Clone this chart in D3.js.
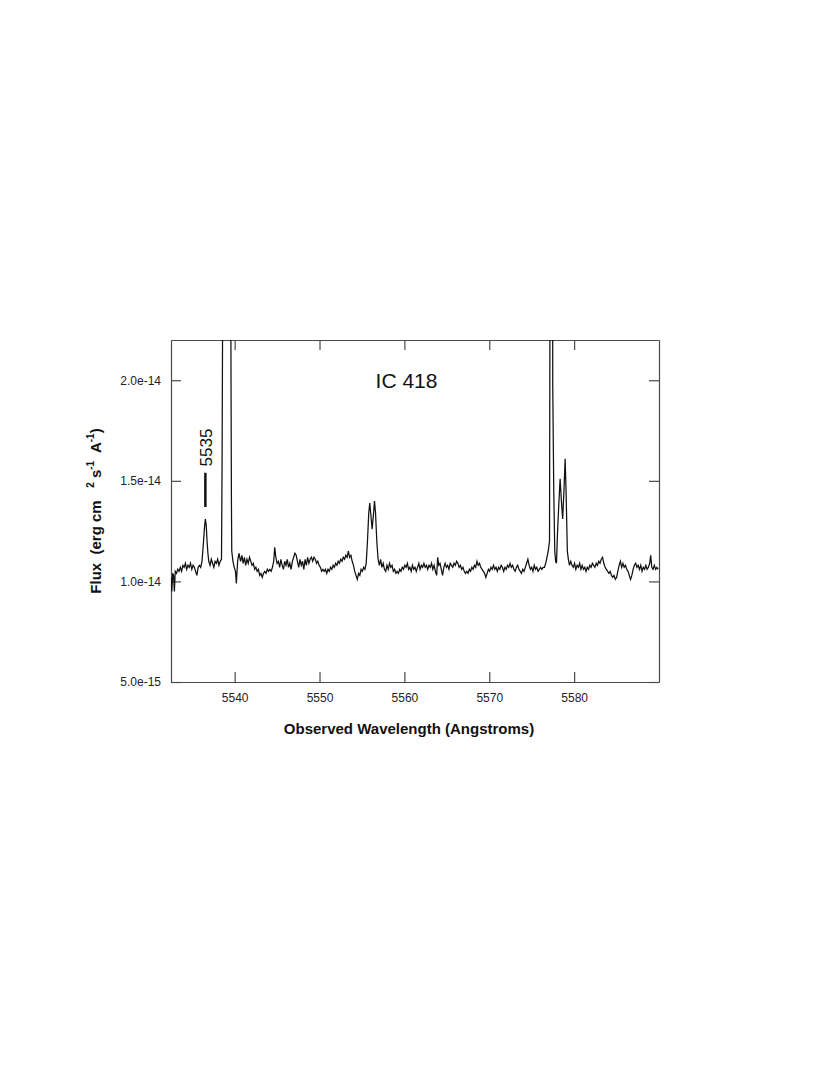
<!DOCTYPE html>
<html><head><meta charset="utf-8">
<script src="https://cdn.jsdelivr.net/npm/d3@7"></script>
<style>body{margin:0;background:#fff}svg{display:block}text{font-family:"Liberation Sans",Arial,sans-serif}</style>
</head><body>
<script>
// spectrum: [wavelength (Angstrom), flux (1e-14 erg cm^-2 s^-1 A^-1)]
const spectrum = [
[5532.50,1.02],[5532.60,0.95],[5532.70,1.04],[5532.80,1.03],[5532.90,0.95],[5533.00,1.05],[5533.15,1.04],[5533.30,1.06],
[5533.45,1.05],[5533.60,1.07],[5533.75,1.05],[5533.90,1.08],[5534.05,1.07],[5534.20,1.09],[5534.35,1.06],[5534.50,1.08],
[5534.65,1.07],[5534.80,1.09],[5534.95,1.06],[5535.10,1.08],[5535.25,1.07],[5535.40,1.05],[5535.55,1.03],[5535.70,1.07],
[5535.85,1.08],[5536.00,1.07],[5536.15,1.10],[5536.30,1.18],[5536.45,1.27],[5536.55,1.31],[5536.65,1.28],[5536.75,1.20],
[5536.85,1.14],[5536.95,1.10],[5537.10,1.08],[5537.25,1.11],[5537.40,1.09],[5537.55,1.07],[5537.70,1.10],[5537.85,1.09],
[5538.00,1.11],[5538.15,1.08],[5538.30,1.10],[5538.45,1.11],[5538.52,1.60],[5538.58,2.30],[5539.05,4.00],[5539.55,2.30],
[5539.62,1.40],[5539.66,1.15],[5539.80,1.10],[5539.95,1.07],[5540.10,1.05],[5540.20,0.99],[5540.35,1.10],[5540.50,1.14],
[5540.70,1.10],[5540.85,1.13],[5541.00,1.09],[5541.15,1.12],[5541.30,1.08],[5541.45,1.11],[5541.60,1.09],[5541.75,1.12],
[5541.90,1.10],[5542.05,1.08],[5542.20,1.09],[5542.35,1.06],[5542.50,1.07],[5542.65,1.05],[5542.80,1.06],[5542.95,1.03],
[5543.10,1.04],[5543.25,1.02],[5543.40,1.04],[5543.55,1.05],[5543.70,1.04],[5543.85,1.06],[5544.00,1.05],[5544.15,1.06],
[5544.30,1.05],[5544.45,1.07],[5544.60,1.10],[5544.72,1.17],[5544.85,1.12],[5545.00,1.09],[5545.15,1.10],[5545.30,1.07],
[5545.45,1.11],[5545.60,1.08],[5545.75,1.06],[5545.90,1.10],[5546.05,1.08],[5546.20,1.11],[5546.35,1.07],[5546.50,1.09],
[5546.65,1.06],[5546.80,1.10],[5546.95,1.12],[5547.10,1.14],[5547.25,1.13],[5547.40,1.10],[5547.55,1.07],[5547.70,1.11],
[5547.85,1.08],[5548.00,1.10],[5548.15,1.06],[5548.30,1.11],[5548.45,1.08],[5548.60,1.12],[5548.75,1.09],[5548.90,1.11],
[5549.05,1.12],[5549.20,1.10],[5549.35,1.12],[5549.50,1.11],[5549.65,1.09],[5549.80,1.10],[5549.95,1.08],[5550.10,1.07],
[5550.25,1.05],[5550.40,1.06],[5550.55,1.05],[5550.70,1.06],[5550.85,1.04],[5551.00,1.06],[5551.15,1.05],[5551.30,1.07],
[5551.45,1.06],[5551.60,1.08],[5551.75,1.07],[5551.90,1.09],[5552.05,1.08],[5552.20,1.10],[5552.35,1.09],[5552.50,1.11],
[5552.65,1.10],[5552.80,1.12],[5552.95,1.11],[5553.10,1.13],[5553.25,1.12],[5553.40,1.15],[5553.55,1.12],[5553.70,1.13],
[5553.85,1.10],[5554.00,1.08],[5554.15,1.05],[5554.30,1.03],[5554.45,1.01],[5554.60,1.04],[5554.75,1.03],[5554.90,1.06],
[5555.05,1.05],[5555.20,1.07],[5555.35,1.06],[5555.50,1.09],[5555.65,1.20],[5555.80,1.34],[5555.92,1.39],[5556.05,1.33],
[5556.20,1.26],[5556.35,1.33],[5556.48,1.40],[5556.60,1.34],[5556.75,1.20],[5556.90,1.11],[5557.05,1.08],[5557.20,1.11],
[5557.35,1.07],[5557.50,1.09],[5557.65,1.06],[5557.80,1.05],[5557.95,1.08],[5558.10,1.06],[5558.25,1.09],[5558.40,1.07],
[5558.55,1.08],[5558.70,1.05],[5558.85,1.06],[5559.00,1.04],[5559.15,1.05],[5559.30,1.04],[5559.45,1.06],[5559.60,1.05],
[5559.75,1.07],[5559.90,1.06],[5560.05,1.08],[5560.20,1.07],[5560.35,1.09],[5560.50,1.06],[5560.65,1.07],[5560.80,1.05],
[5560.95,1.08],[5561.10,1.06],[5561.25,1.07],[5561.40,1.05],[5561.55,1.07],[5561.70,1.09],[5561.85,1.06],[5562.00,1.08],
[5562.15,1.07],[5562.30,1.09],[5562.45,1.07],[5562.60,1.08],[5562.75,1.06],[5562.90,1.08],[5563.05,1.07],[5563.20,1.09],
[5563.35,1.06],[5563.50,1.08],[5563.65,1.05],[5563.80,1.03],[5563.92,1.12],[5564.05,1.08],[5564.20,1.09],[5564.35,1.06],
[5564.50,1.03],[5564.65,1.07],[5564.80,1.09],[5564.95,1.07],[5565.10,1.08],[5565.25,1.06],[5565.40,1.09],[5565.55,1.08],
[5565.70,1.07],[5565.85,1.09],[5566.00,1.08],[5566.15,1.10],[5566.30,1.09],[5566.45,1.07],[5566.60,1.08],[5566.75,1.06],
[5566.90,1.07],[5567.05,1.05],[5567.20,1.04],[5567.35,1.05],[5567.50,1.04],[5567.65,1.06],[5567.80,1.05],[5567.95,1.07],
[5568.10,1.06],[5568.25,1.08],[5568.40,1.07],[5568.55,1.10],[5568.70,1.08],[5568.85,1.09],[5569.00,1.07],[5569.15,1.06],
[5569.30,1.05],[5569.45,1.04],[5569.60,1.02],[5569.75,1.04],[5569.90,1.06],[5570.05,1.05],[5570.20,1.07],[5570.35,1.06],
[5570.50,1.08],[5570.65,1.06],[5570.80,1.07],[5570.95,1.05],[5571.10,1.07],[5571.25,1.06],[5571.40,1.08],[5571.55,1.07],
[5571.70,1.05],[5571.85,1.07],[5572.00,1.06],[5572.15,1.08],[5572.30,1.07],[5572.45,1.09],[5572.60,1.07],[5572.75,1.08],
[5572.90,1.06],[5573.05,1.05],[5573.20,1.07],[5573.35,1.08],[5573.50,1.06],[5573.65,1.05],[5573.80,1.04],[5573.95,1.06],
[5574.10,1.05],[5574.25,1.07],[5574.40,1.09],[5574.55,1.11],[5574.70,1.08],[5574.85,1.06],[5575.00,1.07],[5575.15,1.05],
[5575.30,1.08],[5575.45,1.06],[5575.60,1.07],[5575.75,1.05],[5575.90,1.06],[5576.05,1.07],[5576.20,1.06],[5576.35,1.07],
[5576.50,1.07],[5576.65,1.09],[5576.80,1.12],[5576.95,1.15],[5577.10,1.20],[5577.18,3.00],[5577.40,5.00],[5577.48,1.97],
[5577.60,1.45],[5577.72,1.15],[5577.82,1.10],[5577.92,1.09],[5578.05,1.25],[5578.18,1.37],[5578.35,1.51],[5578.50,1.40],
[5578.65,1.31],[5578.80,1.45],[5578.94,1.61],[5579.05,1.45],[5579.20,1.15],[5579.32,1.11],[5579.45,1.08],[5579.60,1.10],
[5579.75,1.08],[5579.90,1.07],[5580.05,1.09],[5580.20,1.06],[5580.35,1.08],[5580.50,1.07],[5580.65,1.09],[5580.80,1.06],
[5580.95,1.08],[5581.10,1.06],[5581.25,1.07],[5581.40,1.05],[5581.55,1.07],[5581.70,1.06],[5581.85,1.08],[5582.00,1.07],
[5582.15,1.09],[5582.30,1.08],[5582.45,1.07],[5582.60,1.09],[5582.75,1.08],[5582.90,1.10],[5583.05,1.09],[5583.20,1.11],
[5583.35,1.12],[5583.50,1.09],[5583.65,1.07],[5583.80,1.06],[5583.95,1.05],[5584.10,1.04],[5584.25,1.05],[5584.40,1.03],
[5584.55,1.02],[5584.70,1.03],[5584.85,1.01],[5585.00,1.02],[5585.15,1.05],[5585.30,1.08],[5585.45,1.10],[5585.60,1.07],
[5585.75,1.09],[5585.90,1.07],[5586.05,1.08],[5586.20,1.06],[5586.35,1.05],[5586.50,1.03],[5586.65,1.01],[5586.80,1.03],
[5586.95,1.06],[5587.10,1.08],[5587.25,1.09],[5587.40,1.07],[5587.55,1.08],[5587.70,1.06],[5587.85,1.08],[5588.00,1.05],
[5588.15,1.07],[5588.30,1.06],[5588.45,1.08],[5588.60,1.06],[5588.75,1.07],[5588.90,1.09],[5589.02,1.13],[5589.15,1.07],
[5589.30,1.06],[5589.45,1.08],[5589.60,1.06],[5589.75,1.07],[5589.90,1.06]
];
const xDomain = [5532.5, 5590];
const yDomain = [0.5, 2.2];
const xTicks = [5540, 5550, 5560, 5570, 5580];
const yTicks = [0.5, 1.0, 1.5, 2.0];
const yTickLabels = ["5.0e-15", "1.0e-14", "1.5e-14", "2.0e-14"];
const titleText = "IC 418";
const markerWavelength = [5536.55];
const markerFlux = [1.37, 1.54];
const markerLabel = "5535";

const W = 830, H = 1073;
const m = {left: 171, top: 340, right: 659, bottom: 682};
const svg = d3.select("body").append("svg").attr("width", W).attr("height", H);
const x = d3.scaleLinear().domain(xDomain).range([m.left, m.right]);
const y = d3.scaleLinear().domain(yDomain).range([m.bottom, m.top]);

svg.append("clipPath").attr("id", "clip").append("rect")
  .attr("x", m.left).attr("y", m.top).attr("width", m.right - m.left).attr("height", m.bottom - m.top);

const axisColor = "#4a4a4a";
const tl = 10;
const gB = svg.append("g").attr("transform", `translate(0,${m.bottom})`)
  .call(d3.axisBottom(x).tickValues(xTicks).tickSize(-tl).tickSizeOuter(0).tickPadding(11).tickFormat(d3.format("d")));
const gT = svg.append("g").attr("transform", `translate(0,${m.top})`)
  .call(d3.axisTop(x).tickValues(xTicks).tickSize(-tl).tickSizeOuter(0).tickFormat(""));
const gL = svg.append("g").attr("transform", `translate(${m.left},0)`)
  .call(d3.axisLeft(y).tickValues(yTicks).tickSize(-tl).tickSizeOuter(0).tickPadding(10).tickFormat((d, i) => yTickLabels[i]));
const gR = svg.append("g").attr("transform", `translate(${m.right},0)`)
  .call(d3.axisRight(y).tickValues(yTicks).tickSize(-tl).tickSizeOuter(0).tickFormat(""));
[gB, gT, gL, gR].forEach(g => {
  g.selectAll(".domain").attr("stroke", axisColor).attr("stroke-width", 1.2);
  g.selectAll(".tick line").attr("stroke", axisColor).attr("stroke-width", 1.2);
  g.selectAll("text").attr("font-size", 12).attr("fill", "#222").attr("font-family", "Liberation Sans, Arial, sans-serif");
});

const line = d3.line().x(d => x(d[0])).y(d => y(d[1]));
svg.append("path").datum(spectrum).attr("clip-path", "url(#clip)")
  .attr("d", line).attr("fill", "none").attr("stroke", "#111").attr("stroke-width", 1.25).attr("stroke-linejoin", "miter");

// title
svg.append("text").attr("x", 406.5).attr("y", 388).attr("text-anchor", "middle")
  .attr("font-size", 21).attr("fill", "#111").text(titleText);

// marker
svg.append("line").attr("x1", x(markerWavelength[0])).attr("x2", x(markerWavelength[0]))
  .attr("y1", y(markerFlux[0])).attr("y2", y(markerFlux[1])).attr("stroke", "#111").attr("stroke-width", 2.5);
svg.append("text").attr("transform", `translate(212,447.5) rotate(-90)`)
  .attr("text-anchor", "middle").attr("font-size", 17).attr("fill", "#111").text(markerLabel);

// axis titles
svg.append("text").attr("x", 409).attr("y", 734).attr("text-anchor", "middle")
  .attr("font-size", 15).attr("font-weight", "bold").attr("fill", "#111").text("Observed Wavelength (Angstroms)");

const yt = svg.append("text").attr("transform", `translate(101,511) rotate(-90)`).attr("text-anchor", "middle")
  .attr("font-size", 15).attr("font-weight", "bold").attr("fill", "#111").attr("xml:space", "preserve")
  .style("white-space", "pre");
yt.append("tspan").text("Flux  (erg cm   ");
yt.append("tspan").attr("font-size", 10).attr("dy", -7).text("2");
yt.append("tspan").attr("dy", 7).text(" s");
yt.append("tspan").attr("font-size", 10).attr("dy", -7).text("-1");
yt.append("tspan").attr("dy", 7).text("  A");
yt.append("tspan").attr("font-size", 10).attr("dy", -7).text("-1");
yt.append("tspan").attr("dy", 7).text(")");
</script>
</body></html>
